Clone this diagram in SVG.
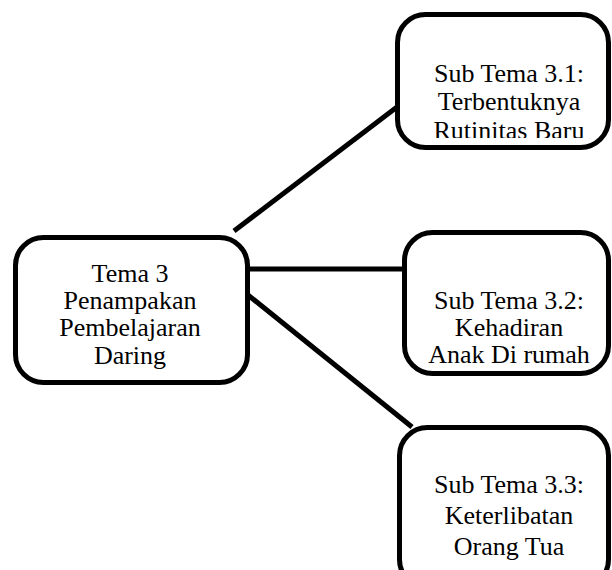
<svg xmlns="http://www.w3.org/2000/svg" width="612" height="570" viewBox="0 0 612 570">
<style>
.box{fill:#fff;stroke:#000;stroke-width:5}
.lbl{font-family:"Liberation Serif","Times New Roman",serif;font-size:26px;fill:#000;text-anchor:middle}
.conn{stroke:#000;stroke-width:5;fill:none}
</style>
<defs>
<clipPath id="clip1"><rect x="395" y="12" width="220" height="126"/></clipPath>
</defs>
<rect width="612" height="570" fill="#fff"/>
<g id="connectors">
<line class="conn" x1="234" y1="231" x2="397" y2="107"/>
<line class="conn" x1="250" y1="269" x2="402" y2="269"/>
<line class="conn" x1="248" y1="295" x2="412" y2="427"/>
</g>
<g id="tema3">
<rect class="box" x="15.5" y="237.5" width="232" height="145" rx="28"/>
<text class="lbl" x="130" y="282">Tema 3</text>
<text class="lbl" x="130" y="309">Penampakan</text>
<text class="lbl" x="130" y="336">Pembelajaran</text>
<text class="lbl" x="130" y="364">Daring</text>
</g>
<g id="sub31">
<rect class="box" x="397.5" y="14.5" width="211" height="133" rx="28"/>
<g clip-path="url(#clip1)">
<text class="lbl" x="509" y="82">Sub Tema 3.1:</text>
<text class="lbl" x="509" y="110">Terbentuknya</text>
<text class="lbl" x="509" y="139">Rutinitas Baru</text>
</g>
</g>
<g id="sub32">
<rect class="box" x="404.5" y="232.5" width="204" height="141" rx="28"/>
<text class="lbl" x="509" y="309">Sub Tema 3.2:</text>
<text class="lbl" x="509" y="336">Kehadiran</text>
<text class="lbl" x="509" y="363">Anak Di rumah</text>
</g>
<g id="sub33">
<rect class="box" x="399.5" y="427.5" width="209" height="160" rx="28"/>
<text class="lbl" x="509" y="493">Sub Tema 3.3:</text>
<text class="lbl" x="509" y="524">Keterlibatan</text>
<text class="lbl" x="509" y="555">Orang Tua</text>
</g>
</svg>
